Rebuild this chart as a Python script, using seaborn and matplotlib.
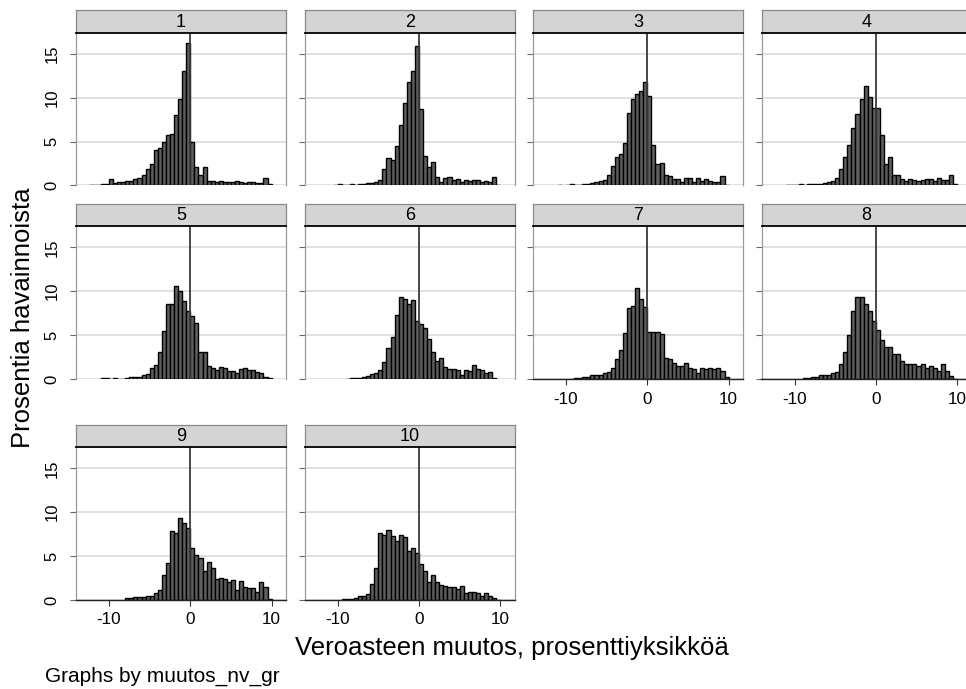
import numpy as np
import pandas as pd
import matplotlib
matplotlib.use("Agg")
import matplotlib.pyplot as plt
import seaborn as sns

# Histogram bins: width 0.5 percentage points, from -12.5 to 10
bin_start = -12.5
bin_end = 10.0
bin_width = 0.5

groups = ["1", "2", "3", "4", "5", "6", "7", "8", "9", "10"]

# Share of observations (%) per bin, left edge -12.5 ... 9.5
pct_g1 = [0.05, 0.08, 0.1, 0.15, 0.2, 0.7, 0.25, 0.35, 0.45, 0.5, 0.55, 0.75, 0.8,
          1.2, 1.9, 2.5, 4.0, 4.3, 4.9, 5.7, 5.9, 8.0, 9.8, 13.0, 16.2,
          4.9, 2.15, 1.25, 2.15, 0.55, 0.5, 0.4, 0.5, 0.35, 0.4, 0.35, 0.5, 0.4,
          0.3, 0.35, 0.45, 0.3, 0.3, 0.9, 0.2]
pct_g2 = [0, 0, 0, 0, 0.1, 0.15, 0.05, 0.1, 0.15, 0.1, 0.15, 0.2, 0.25,
          0.3, 0.4, 0.65, 1.9, 3.1, 2.9, 4.5, 6.9, 9.4, 11.8, 13.1, 15.9,
          8.7, 3.4, 2.15, 2.7, 1.0, 0.45, 0.8, 1.0, 0.65, 0.75, 0.45, 0.65, 0.5,
          0.65, 0.65, 0.4, 0.55, 0.45, 0.95, 0.1]
pct_g3 = [0, 0, 0, 0.1, 0, 0.1, 0.2, 0.1, 0.1, 0.2, 0.2, 0.25, 0.35,
          0.5, 0.65, 1.15, 2.25, 3.3, 3.6, 4.8, 8.3, 9.8, 10.4, 10.75, 11.8,
          10.2, 4.6, 2.45, 2.55, 1.2, 1.05, 0.75, 0.75, 0.45, 0.8, 0.8, 0.45, 0.8,
          0.55, 0.75, 0.55, 0.45, 0.35, 1.05, 0.1]
pct_g4 = [0, 0, 0, 0.1, 0.1, 0.1, 0.15, 0.1, 0.2, 0.15, 0.15, 0.2, 0.25,
          0.4, 0.5, 0.8, 1.9, 3.3, 4.6, 6.6, 8.2, 9.8, 11.3, 10.1, 8.8,
          8.8, 5.7, 2.5, 3.2, 1.25, 1.15, 0.75, 0.55, 0.75, 0.65, 0.5, 0.65, 0.75,
          0.7, 0.55, 0.8, 0.65, 0.65, 1.15, 0.15]
pct_g5 = [0, 0, 0, 0.1, 0.1, 0.05, 0.1, 0.05, 0.05, 0.15, 0.2, 0.2, 0.25,
          0.45, 0.55, 1.2, 1.6, 3.1, 5.5, 8.55, 8.55, 10.65, 10.0, 8.85, 7.7,
          7.2, 6.4, 3.1, 3.1, 1.5, 1.2, 1.0, 1.4, 1.2, 0.9, 0.9, 0.65, 1.15,
          1.3, 1.05, 1.05, 0.85, 0.7, 0.25, 0.1]
pct_g6 = [0, 0, 0, 0, 0, 0, 0, 0.05, 0.1, 0.1, 0.1, 0.2, 0.3,
          0.6, 0.65, 1.0, 1.9, 3.5, 4.8, 7.3, 9.35, 9.1, 8.5, 8.95, 6.6,
          6.3, 5.85, 4.6, 3.05, 2.1, 2.4, 1.35, 1.1, 1.15, 1.05, 0.5, 1.05, 0.9,
          1.6, 1.1, 1.05, 0.65, 0.85, 0.1, 0]
pct_g7 = [0, 0, 0, 0, 0, 0, 0.05, 0.1, 0.15, 0.2, 0.25, 0.4, 0.4,
          0.45, 0.7, 0.85, 1.3, 2.25, 3.3, 5.2, 8.1, 8.3, 10.4, 9.1, 8.2,
          5.4, 5.4, 5.3, 5.1, 2.4, 2.3, 1.85, 1.5, 1.5, 1.85, 1.2, 1.1, 0.7,
          1.3, 1.1, 1.3, 1.1, 1.2, 0.9, 0.25]
pct_g8 = [0, 0, 0, 0, 0, 0, 0, 0.1, 0.1, 0.2, 0.2, 0.45, 0.45,
          0.45, 0.7, 0.8, 1.7, 3.1, 5.0, 7.7, 9.3, 9.35, 8.5, 7.7, 6.6,
          5.6, 4.4, 3.7, 3.6, 2.8, 2.8, 2.1, 1.7, 1.7, 1.7, 1.45, 1.7, 1.3,
          1.5, 1.3, 0.95, 1.7, 0.95, 0.3, 0.05]
pct_g9 = [0, 0, 0, 0, 0, 0, 0, 0, 0, 0.2, 0.2, 0.3, 0.3,
          0.35, 0.4, 0.5, 0.8, 1.1, 2.8, 4.2, 7.9, 7.6, 9.3, 8.8, 8.2,
          5.9, 5.1, 4.75, 3.3, 4.3, 3.6, 2.4, 2.55, 2.4, 2.0, 2.3, 1.15, 2.15,
          1.45, 1.35, 1.4, 0.95, 2.0, 1.5, 0.1]
pct_g10 = [0, 0, 0, 0, 0, 0, 0.15, 0.15, 0.15, 0.2, 0.4, 0.5, 0.7,
           1.8, 3.7, 7.6, 7.4, 8.0, 7.3, 6.7, 7.35, 7.2, 5.6, 5.9, 5.4,
           4.1, 3.35, 2.1, 2.85, 2.0, 1.7, 1.6, 1.5, 1.5, 1.2, 1.6, 0.85, 0.95,
           0.95, 0.75, 0.45, 0.75, 0.4, 0.25, 0.05]

group_pcts = [pct_g1, pct_g2, pct_g3, pct_g4, pct_g5,
              pct_g6, pct_g7, pct_g8, pct_g9, pct_g10]

x_ticks = [-10, 0, 10]
y_ticks = [0, 5, 10, 15]

sns.set_style("white")
plt.rcParams["font.family"] = ["Liberation Sans", "DejaVu Sans"]
plt.rcParams["axes.unicode_minus"] = False
for key in ("text.color", "axes.labelcolor", "xtick.labelcolor", "ytick.labelcolor"):
    plt.rcParams[key] = "black"

W, H = 966, 689
fig = plt.figure(figsize=(W / 100, H / 100), dpi=100)


def box(left, top, width, height):
    return [left / W, 1 - (top + height) / H, width / W, height / H]


col_left = [76, 304.7, 533, 761.5]
row_top = [32.5, 226, 447]
panel_w, panel_h, strip_h = 210, 153, 22.5

n_bins = int(round((bin_end - bin_start) / bin_width))
centers = bin_start + bin_width * (np.arange(n_bins) + 0.5)

# panels that carry the x axis (lowest panel in each column)
x_axis_panels = {6, 7, 8, 9}

for k, (name, pct) in enumerate(zip(groups, group_pcts)):
    r, c = divmod(k, 4)
    ax = fig.add_axes(box(col_left[c], row_top[r], panel_w, panel_h))
    df = pd.DataFrame({"change": centers, "pct": np.asarray(pct, dtype=float)})
    sns.histplot(data=df, x="change", weights="pct", binwidth=bin_width,
                 binrange=(bin_start, bin_end), stat="count",
                 ax=ax, color="#5e5e5e", edgecolor="black", linewidth=1.0,
                 alpha=1, zorder=2)
    for p in list(ax.patches):
        if p.get_height() <= 0:
            p.remove()
    ax.axvline(0, color="#3a3a3a", lw=1.3, zorder=3)
    ax.set_xlim(-14.06, 11.77)
    ax.set_ylim(0, 17.43)
    ax.set_xlabel("")
    ax.set_ylabel("")
    ax.set_axisbelow(True)
    ax.set_yticks(y_ticks)
    ax.yaxis.grid(True, color="#dddddd", lw=1.3)
    ax.xaxis.grid(False)
    for s in ("left", "right"):
        ax.spines[s].set_visible(True)
        ax.spines[s].set_color("#9a9a9a")
        ax.spines[s].set_linewidth(0.9)
    ax.spines["top"].set_visible(False)
    ax.tick_params(axis="y", left=True, length=4, width=0.8, color="#666666",
                   labelsize=12, pad=8, labelleft=(c == 0))
    if c == 0:
        plt.setp(ax.get_yticklabels(), rotation=90, va="center")
    ax.set_xticks(x_ticks)
    if k in x_axis_panels:
        ax.spines["bottom"].set_visible(True)
        ax.spines["bottom"].set_color("#222222")
        ax.spines["bottom"].set_linewidth(1.0)
        ax.tick_params(axis="x", bottom=True, length=4, width=0.8,
                       color="#333333", labelsize=12.3, pad=5)
    else:
        ax.spines["bottom"].set_visible(False)
        ax.tick_params(axis="x", bottom=False, labelbottom=False)

    # group strip above the panel
    st = fig.add_axes(box(col_left[c], row_top[r] - strip_h, panel_w, strip_h))
    st.set_facecolor("#d4d4d4")
    st.set_xticks([])
    st.set_yticks([])
    for s in ("left", "right", "top"):
        st.spines[s].set_visible(True)
        st.spines[s].set_color("#8a8a8a")
        st.spines[s].set_linewidth(0.9)
    st.spines["bottom"].set_visible(True)
    st.spines["bottom"].set_color("black")
    st.spines["bottom"].set_linewidth(1.3)
    st.text(0.5, 0.45, name, ha="center", va="center", fontsize=13,
            transform=st.transAxes)

fig.text(23 / W, 1 - 318 / H, "Prosentia havainnoista", rotation=90,
         ha="center", va="center", fontsize=18.5)
fig.text(512 / W, 1 - 648 / H, "Veroasteen muutos, prosenttiyksikköä",
         ha="center", va="center", fontsize=18.5)
fig.text(45 / W, 1 - 676 / H, "Graphs by muutos_nv_gr",
         ha="left", va="center", fontsize=15)

fig.savefig("out.png", dpi=100, facecolor="white")
